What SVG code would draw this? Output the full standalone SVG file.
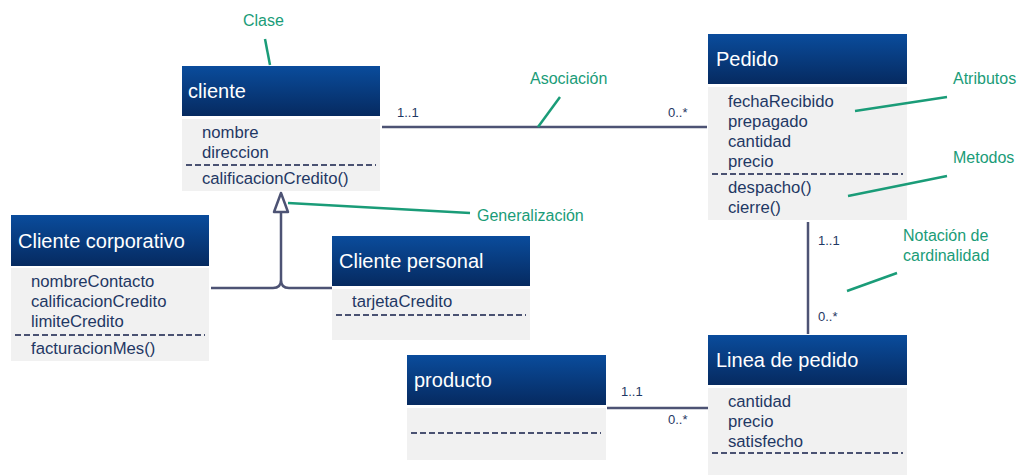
<svg xmlns="http://www.w3.org/2000/svg" width="1021" height="475" viewBox="0 0 1021 475">
<defs>
<linearGradient id="hdr" x1="0" y1="0" x2="0" y2="1">
<stop offset="0" stop-color="#0a4c9c"/>
<stop offset="1" stop-color="#062a60"/>
</linearGradient>
<style>
.hd{fill:url(#hdr);}
.bd{fill:#f1f1f1;}
.ttl{font-family:"Liberation Sans",Arial,sans-serif;font-size:20px;fill:#ffffff;}
.at{font-family:"Liberation Sans",Arial,sans-serif;font-size:16.7px;fill:#1f3864;}
.dash{stroke:#4a5272;stroke-width:2;stroke-dasharray:6,3;fill:none;}
.con{stroke:#4d5374;stroke-width:2.5;fill:none;}
.mul{font-family:"Liberation Sans",Arial,sans-serif;font-size:13px;fill:#1f3864;}
.gn{font-family:"Liberation Sans",Arial,sans-serif;font-size:16px;fill:#1a9c78;}
.gl{stroke:#1a9c78;stroke-width:2.5;fill:none;}
</style>
</defs>
<rect width="1021" height="475" fill="#ffffff"/>

<g id="connectors">
<line class="con" x1="382" y1="127" x2="707" y2="127"/>
<text class="mul" x="397" y="117">1..1</text>
<text class="mul" x="668" y="117">0..*</text>
<path class="con" d="M211,288 H273 Q281,288 281,280 V212 M332,288 H289 Q281,288 281,280"/>
<polygon points="281,193 274,212 288,212" fill="#ffffff" stroke="#4d5374" stroke-width="2.5" stroke-linejoin="round"/>
<line class="con" x1="808" y1="222" x2="808" y2="334"/>
<text class="mul" x="818" y="245">1..1</text>
<text class="mul" x="818" y="321">0..*</text>
<line class="con" x1="607" y1="408" x2="708" y2="408"/>
<text class="mul" x="621" y="396">1..1</text>
<text class="mul" x="668" y="424">0..*</text>
</g>

<g id="cliente">
<rect class="hd" x="182" y="66" width="198" height="50"/>
<rect class="bd" x="182" y="119" width="198" height="72"/>
<text class="ttl" x="188" y="98">cliente</text>
<text class="at" x="202" y="138">nombre</text>
<text class="at" x="202" y="158">direccion</text>
<line class="dash" x1="186" y1="165" x2="376" y2="165"/>
<text class="at" x="202" y="184">calificacionCredito()</text>
</g>

<g id="cliente-corporativo">
<rect class="hd" x="11" y="215" width="198" height="51"/>
<rect class="bd" x="11" y="268" width="198" height="93"/>
<text class="ttl" x="18" y="248">Cliente corporativo</text>
<text class="at" x="31" y="287">nombreContacto</text>
<text class="at" x="31" y="307">calificacionCredito</text>
<text class="at" x="31" y="327">limiteCredito</text>
<line class="dash" x1="15" y1="335" x2="205" y2="335"/>
<text class="at" x="31" y="354">facturacionMes()</text>
</g>

<g id="cliente-personal">
<rect class="hd" x="332" y="236" width="198" height="50"/>
<rect class="bd" x="332" y="289" width="198" height="51"/>
<text class="ttl" x="339" y="268">Cliente personal</text>
<text class="at" x="352" y="307">tarjetaCredito</text>
<line class="dash" x1="336" y1="315" x2="526" y2="315"/>
</g>

<g id="pedido">
<rect class="hd" x="708" y="34" width="199" height="50"/>
<rect class="bd" x="708" y="87" width="199" height="133"/>
<text class="ttl" x="716" y="66">Pedido</text>
<text class="at" x="728" y="107">fechaRecibido</text>
<text class="at" x="728" y="127">prepagado</text>
<text class="at" x="728" y="147">cantidad</text>
<text class="at" x="728" y="167">precio</text>
<line class="dash" x1="712" y1="174" x2="903" y2="174"/>
<text class="at" x="728" y="193">despacho()</text>
<text class="at" x="728" y="213">cierre()</text>
</g>

<g id="linea-de-pedido">
<rect class="hd" x="708" y="335" width="199" height="50"/>
<rect class="bd" x="708" y="388" width="199" height="87"/>
<text class="ttl" x="716" y="367">Linea de pedido</text>
<text class="at" x="728" y="407">cantidad</text>
<text class="at" x="728" y="427">precio</text>
<text class="at" x="728" y="447">satisfecho</text>
<line class="dash" x1="712" y1="453" x2="903" y2="453"/>
</g>

<g id="producto">
<rect class="hd" x="407" y="355" width="199" height="50"/>
<rect class="bd" x="407" y="408" width="199" height="52"/>
<text class="ttl" x="414" y="387">producto</text>
<line class="dash" x1="411" y1="433" x2="601" y2="433"/>
</g>

<g id="annotations">
<text class="gn" x="243" y="26">Clase</text>
<line class="gl" x1="265" y1="39" x2="270" y2="65"/>
<text class="gn" x="530" y="84">Asociación</text>
<line class="gl" x1="538" y1="127" x2="560" y2="97"/>
<text class="gn" x="477" y="221">Generalización</text>
<line class="gl" x1="288" y1="203" x2="470" y2="213"/>
<text class="gn" x="953" y="84">Atributos</text>
<line class="gl" x1="855" y1="111" x2="947" y2="97"/>
<text class="gn" x="953" y="163">Metodos</text>
<line class="gl" x1="848" y1="196" x2="947" y2="176"/>
<text class="gn" x="903" y="241">Notación de</text>
<text class="gn" x="903" y="261">cardinalidad</text>
<line class="gl" x1="847" y1="291" x2="897" y2="273"/>
</g>
</svg>
